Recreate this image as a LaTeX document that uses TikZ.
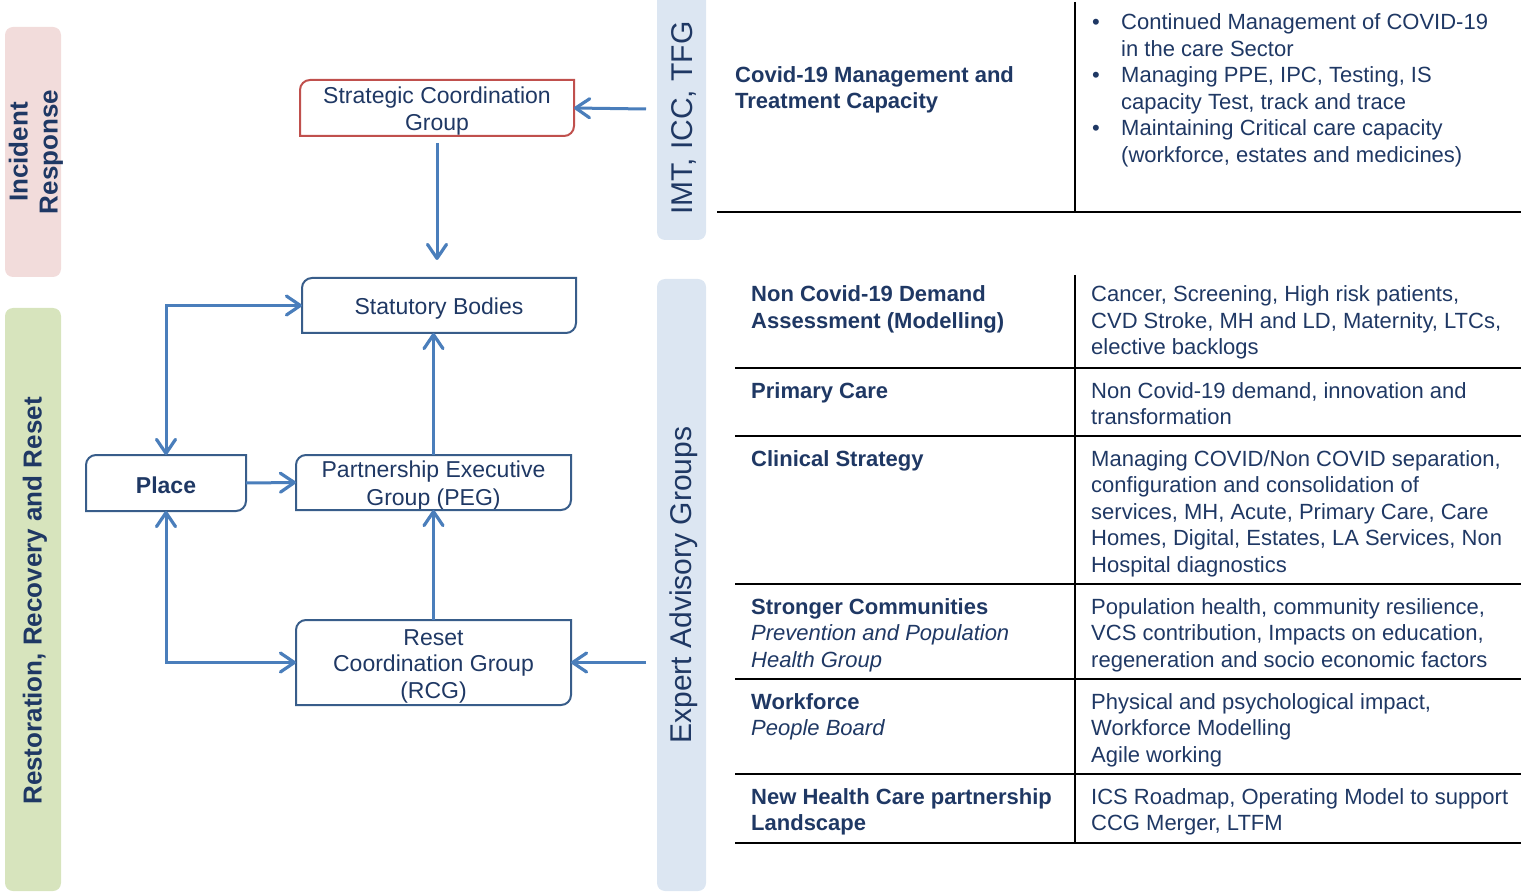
\documentclass[tikz,border=0pt]{standalone}
\usepackage{fontspec}
\setmainfont{Liberation Sans}
\usetikzlibrary{positioning, arrows.meta}

\definecolor{navy}{HTML}{1F3864}
\definecolor{boxblue}{HTML}{385D8A}
\definecolor{arrowblue}{HTML}{4A7EBB}
\definecolor{boxred}{HTML}{C0504D}
\definecolor{pinkband}{HTML}{F2DCDB}
\definecolor{greenband}{HTML}{D7E4BD}
\definecolor{blueband}{HTML}{DCE6F2}

\tikzset{
  barb/.tip={Straight Barb[length=14pt,width=19pt,line width=3.2pt,round]},
  boxtext/.style={text=navy, font=\fontsize{23}{27.5}\selectfont, align=center, inner sep=0pt, outer sep=0pt, text depth=0pt},
  flow/.style={arrowblue, line width=3pt, -barb},
  flowboth/.style={flow, barb-barb},
  bandlabel/.style={text=navy, rotate=90, align=center, inner sep=0pt},
  rule/.style={black, line width=2pt},
  headcell/.style={text=navy, font=\fontsize{22}{26.5}\selectfont\bfseries, align=left, anchor=base west, inner sep=0pt},
  bodycell/.style={text=navy, font=\fontsize{22}{26.5}\selectfont, align=left, anchor=base west, inner sep=0pt}
}

% frame with rounded top-left and bottom-right corners
\newcommand{\snipframe}[2]{%
  \draw[#2, line width=2pt]
    ([yshift=-10pt]#1.north west) arc[start angle=180, end angle=90, radius=10pt]
    -- (#1.north east) -- ([yshift=10pt]#1.south east)
    arc[start angle=0, end angle=-90, radius=10pt] -- (#1.south west) -- cycle;}

\begin{document}
\begin{tikzpicture}[x=1pt, y=-1pt]
\useasboundingbox (0,0) rectangle (1521,893);

% side bands
\fill[pinkband, rounded corners=8pt] (5,27) rectangle (61,277);
\fill[greenband, rounded corners=8pt] (5,308) rectangle (61,891);
\fill[blueband, rounded corners=8pt] (657,-10) rectangle (706,240);
\fill[blueband, rounded corners=8pt] (657,279) rectangle (706,891);

\node[bandlabel, font=\fontsize{26}{30}\selectfont\bfseries] (incident) at (36,152) {Incident\\Response};
\node[bandlabel, font=\fontsize{26}{30}\selectfont\bfseries] (restore) at (35,601) {Restoration, Recovery and Reset};
\node[bandlabel, font=\fontsize{30}{36}\selectfont] (imt) at (684,118) {IMT, ICC, TFG};
\node[bandlabel, font=\fontsize{30}{36}\selectfont] (expert) at (684,585) {Expert Advisory Groups};

% groups
\node[boxtext, minimum width=274pt, minimum height=56pt, text height=46pt] (scg) at (437,108) {Strategic Coordination\\Group};
\node[boxtext, minimum width=274pt, minimum height=55pt, text height=19pt] (stat) at (439,305.5) {Statutory Bodies};
\node[boxtext, minimum width=160pt, minimum height=56pt, text height=20pt, font=\fontsize{23}{27.5}\selectfont\bfseries] (place) at (166,483) {Place};
\node[boxtext, minimum width=275pt, minimum height=55pt, text height=45pt] (peg) at (433.5,482.5) {Partnership Executive\\Group (PEG)};
\node[boxtext, minimum width=275pt, minimum height=85pt, text height=71pt, font=\fontsize{23}{26.5}\selectfont] (rcg) at (433.5,662.5) {Reset\\Coordination Group\\(RCG)};

\snipframe{scg}{boxred}
\foreach \n in {stat,place,peg,rcg}{
  \snipframe{\n}{boxblue}
}

% arrows
\coordinate (imtin) at (646,109);
\coordinate (expin) at (646,662.5);
\draw[flow] (imtin) -- (scg.east);
\draw[flow, shorten <=7pt, shorten >=18pt] (scg.south) -- (scg.south |- stat.north);
\draw[flowboth] (place.north) |- (stat.west);
\draw[flow] (place.east) -- (peg.west);
\draw[flow] (peg.north) -- (peg.north |- stat.south);
\draw[flow] (rcg.north) -- (peg.south);
\draw[flowboth] (place.south) |- (rcg.west);
\draw[flow] (expin) -- (rcg.east);

% table rules
\draw[rule] (1075,2) -- (1075,212);
\draw[rule] (717,212) -- (1521,212);
\draw[rule] (1075,275) -- (1075,843);
\foreach \y in {368,436,584,679,774,843}
  \draw[rule] (735,\y) -- (1521,\y);

% incident response row
\node[headcell] (covidhead) at (735,109) {Covid-19 Management and\\Treatment Capacity};
\foreach \y/\n in {30/1,83/2,136/3}
  \node[bodycell] (bullet\n) at (1092,\y) {•};
\node[bodycell] (covidbody) at (1121,162.5) {Continued Management of COVID-19\\in the care Sector\\Managing PPE, IPC, Testing, IS\\capacity Test, track and trace\\Maintaining Critical care capacity\\(workforce, estates and medicines)};

% advisory group rows (nodes sit on their last baseline)
\node[headcell] (demandhead) at (751,328.5) {Non Covid-19 Demand\\Assessment (Modelling)};
\node[bodycell] (demandbody) at (1091,355) {Cancer, Screening, High risk patients,\\CVD Stroke, MH and LD, Maternity, LTCs,\\elective backlogs};

\node[headcell] (primaryhead) at (751,398) {Primary Care};
\node[bodycell] (primarybody) at (1091,424.5) {Non Covid-19 demand, innovation and\\transformation};

\node[headcell] (clinicalhead) at (751,466) {Clinical Strategy};
\node[bodycell] (clinicalbody) at (1091,572) {Managing COVID/Non COVID separation,\\configuration and consolidation of\\services, MH, Acute, Primary Care, Care\\Homes, Digital, Estates, LA Services, Non\\Hospital diagnostics};

\node[headcell] (communityhead) at (751,667) {Stronger Communities\\{\mdseries\itshape Prevention and Population}\\{\mdseries\itshape Health Group}};
\node[bodycell] (communitybody) at (1091,667) {Population health, community resilience,\\VCS contribution, Impacts on education,\\regeneration and socio economic factors};

\node[headcell] (workforcehead) at (751,735.5) {Workforce\\{\mdseries\itshape People Board}};
\node[bodycell] (workforcebody) at (1091,762) {Physical and psychological impact,\\Workforce Modelling\\Agile working};

\node[headcell] (landscapehead) at (751,830.5) {New Health Care partnership\\Landscape};
\node[bodycell] (landscapebody) at (1091,830.5) {ICS Roadmap, Operating Model to support\\CCG Merger, LTFM};

\end{tikzpicture}
\end{document}
